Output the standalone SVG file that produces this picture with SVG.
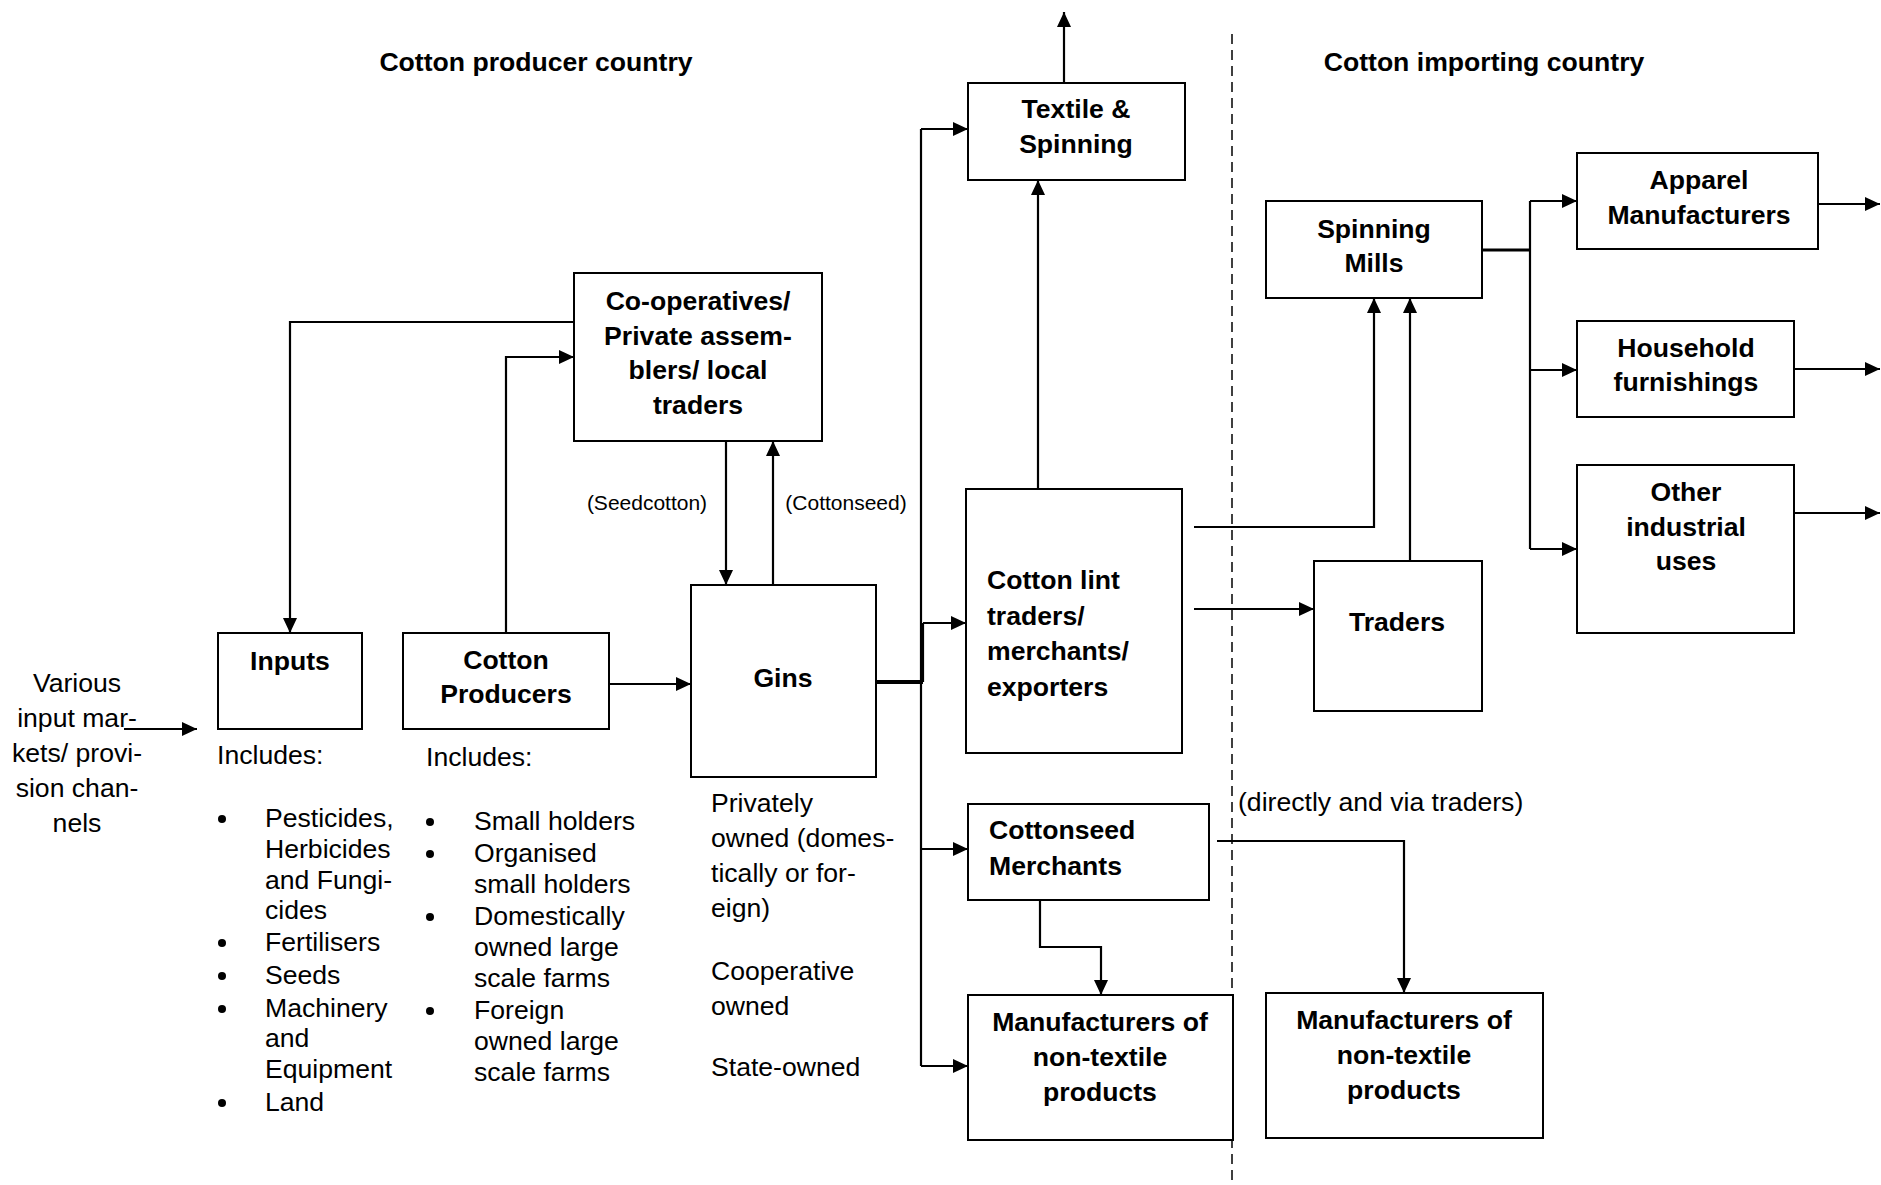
<svg xmlns="http://www.w3.org/2000/svg" width="1881" height="1185" viewBox="0 0 1881 1185">
<defs>
<marker id="arr" viewBox="0 0 15 14" markerWidth="15" markerHeight="14" refX="15" refY="7" orient="auto" markerUnits="userSpaceOnUse">
<path d="M0,0 L15,7 L0,14 Z" fill="#000"/>
</marker>
<style>
.box{fill:#fff;stroke:#000;stroke-width:2}
.lbl{font-family:"Liberation Sans",Arial,sans-serif;font-size:26.6px;font-weight:bold;fill:#000;text-anchor:middle}
.lbll{font-family:"Liberation Sans",Arial,sans-serif;font-size:26.6px;font-weight:bold;fill:#000}
.txt{font-family:"Liberation Sans",Arial,sans-serif;font-size:26.6px;fill:#000}
.txtm{font-family:"Liberation Sans",Arial,sans-serif;font-size:26.6px;fill:#000;text-anchor:middle}
.small{font-family:"Liberation Sans",Arial,sans-serif;font-size:21px;fill:#000;text-anchor:middle}
.c{fill:none;stroke:#000;stroke-width:2.2}
.ca{fill:none;stroke:#000;stroke-width:2.2;marker-end:url(#arr)}
</style>
</defs>
<rect width="1881" height="1185" fill="#fff"/>

<!-- headings and divider -->
<text class="lbl" x="536" y="71">Cotton producer country</text>
<text class="lbl" x="1484" y="71">Cotton importing country</text>
<line x1="1232" y1="34" x2="1232" y2="1185" stroke="#000" stroke-width="1.5" stroke-dasharray="10 6"/>

<!-- connectors -->
<g id="connectors">
<path class="ca" d="M574,322 H290 V633"/>
<path class="ca" d="M506,633 V357 H574"/>
<path class="ca" d="M726,441 V585"/>
<path class="ca" d="M773,585 V441"/>
<path class="ca" d="M609,684 H691"/>
<path class="c" d="M876,682 H923" style="stroke-width:4"/>
<path class="c" d="M921,129 V1066"/>
<path class="c" d="M923,682 V623"/>
<path class="ca" d="M921,129 H968"/>
<path class="ca" d="M923,623 H966"/>
<path class="ca" d="M921,849 H968"/>
<path class="ca" d="M921,1066 H968"/>
<path class="ca" d="M1038,489 V180"/>
<path class="ca" d="M1064,83 V12"/>
<path class="ca" d="M1194,527 H1374 V298"/>
<path class="ca" d="M1410,561 V298"/>
<path class="ca" d="M1194,609 H1314"/>
<path class="c" d="M1482,250 H1530" style="stroke-width:3"/>
<path class="c" d="M1530,201 V549"/>
<path class="ca" d="M1530,201 H1577"/>
<path class="ca" d="M1530,370 H1577"/>
<path class="ca" d="M1530,549 H1577"/>
<path class="ca" d="M1818,204 H1880"/>
<path class="ca" d="M1794,369 H1880"/>
<path class="ca" d="M1794,513 H1880"/>
<path class="ca" d="M1040,900 V947 H1101 V995"/>
<path class="ca" d="M1217,841 H1404 V993"/>
<path class="ca" d="M124,729 H197"/>
</g>

<!-- connector labels -->
<text class="small" x="647" y="510">(Seedcotton)</text>
<text class="small" x="846" y="510">(Cottonseed)</text>
<text class="txt" x="1238" y="811">(directly and via traders)</text>

<!-- nodes -->
<g id="textile">
<rect class="box" x="968" y="83" width="217" height="97"/>
<text class="lbl" x="1076" y="118">Textile &amp;</text>
<text class="lbl" x="1076" y="153">Spinning</text>
</g>

<g id="coops">
<rect class="box" x="574" y="273" width="248" height="168"/>
<text class="lbl" x="698" y="310">Co-operatives/</text>
<text class="lbl" x="698" y="345">Private assem-</text>
<text class="lbl" x="698" y="379">blers/ local</text>
<text class="lbl" x="698" y="414">traders</text>
</g>

<g id="inputs">
<rect class="box" x="218" y="633" width="144" height="96"/>
<text class="lbl" x="290" y="670">Inputs</text>
</g>

<g id="producers">
<rect class="box" x="403" y="633" width="206" height="96"/>
<text class="lbl" x="506" y="669">Cotton</text>
<text class="lbl" x="506" y="703">Producers</text>
</g>

<g id="gins">
<rect class="box" x="691" y="585" width="185" height="192"/>
<text class="lbl" x="783" y="687">Gins</text>
</g>

<g id="cottonlint">
<rect class="box" x="966" y="489" width="216" height="264"/>
<text class="lbll" x="987" y="589">Cotton lint</text>
<text class="lbll" x="987" y="625">traders/</text>
<text class="lbll" x="987" y="660">merchants/</text>
<text class="lbll" x="987" y="696">exporters</text>
</g>

<g id="cottonseed">
<rect class="box" x="968" y="804" width="241" height="96"/>
<text class="lbll" x="989" y="839">Cottonseed</text>
<text class="lbll" x="989" y="875">Merchants</text>
</g>

<g id="manuf-producer">
<rect class="box" x="968" y="995" width="265" height="145"/>
<text class="lbl" x="1100" y="1031">Manufacturers of</text>
<text class="lbl" x="1100" y="1066">non-textile</text>
<text class="lbl" x="1100" y="1101">products</text>
</g>

<g id="manuf-importer">
<rect class="box" x="1266" y="993" width="277" height="145"/>
<text class="lbl" x="1404" y="1029">Manufacturers of</text>
<text class="lbl" x="1404" y="1064">non-textile</text>
<text class="lbl" x="1404" y="1099">products</text>
</g>

<g id="spinningmills">
<rect class="box" x="1266" y="201" width="216" height="97"/>
<text class="lbl" x="1374" y="238">Spinning</text>
<text class="lbl" x="1374" y="272">Mills</text>
</g>

<g id="traders">
<rect class="box" x="1314" y="561" width="168" height="150"/>
<text class="lbl" x="1397" y="631">Traders</text>
</g>

<g id="apparel">
<rect class="box" x="1577" y="153" width="241" height="96"/>
<text class="lbl" x="1699" y="189">Apparel</text>
<text class="lbl" x="1699" y="224">Manufacturers</text>
</g>

<g id="household">
<rect class="box" x="1577" y="321" width="217" height="96"/>
<text class="lbl" x="1686" y="357">Household</text>
<text class="lbl" x="1686" y="391">furnishings</text>
</g>

<g id="otheruses">
<rect class="box" x="1577" y="465" width="217" height="168"/>
<text class="lbl" x="1686" y="501">Other</text>
<text class="lbl" x="1686" y="536">industrial</text>
<text class="lbl" x="1686" y="570">uses</text>
</g>

<!-- free text -->
<g id="various">
<text class="txtm" x="77" y="692">Various</text>
<text class="txtm" x="77" y="727">input mar-</text>
<text class="txtm" x="77" y="762">kets/ provi-</text>
<text class="txtm" x="77" y="797">sion chan-</text>
<text class="txtm" x="77" y="832">nels</text>
</g>

<g id="inputs-list">
<text class="txt" x="217" y="764">Includes:</text>
<circle cx="222" cy="819" r="4"/>
<text class="txt" x="265" y="827">Pesticides,</text>
<text class="txt" x="265" y="858">Herbicides</text>
<text class="txt" x="265" y="889">and Fungi-</text>
<text class="txt" x="265" y="919">cides</text>
<circle cx="222" cy="943" r="4"/>
<text class="txt" x="265" y="951">Fertilisers</text>
<circle cx="222" cy="976" r="4"/>
<text class="txt" x="265" y="984">Seeds</text>
<circle cx="222" cy="1009" r="4"/>
<text class="txt" x="265" y="1017">Machinery</text>
<text class="txt" x="265" y="1047">and</text>
<text class="txt" x="265" y="1078">Equipment</text>
<circle cx="222" cy="1103" r="4"/>
<text class="txt" x="265" y="1111">Land</text>
</g>

<g id="producers-list">
<text class="txt" x="426" y="766">Includes:</text>
<circle cx="430" cy="822" r="4"/>
<text class="txt" x="474" y="830">Small holders</text>
<circle cx="430" cy="854" r="4"/>
<text class="txt" x="474" y="862">Organised</text>
<text class="txt" x="474" y="893">small holders</text>
<circle cx="430" cy="917" r="4"/>
<text class="txt" x="474" y="925">Domestically</text>
<text class="txt" x="474" y="956">owned large</text>
<text class="txt" x="474" y="987">scale farms</text>
<circle cx="430" cy="1011" r="4"/>
<text class="txt" x="474" y="1019">Foreign</text>
<text class="txt" x="474" y="1050">owned large</text>
<text class="txt" x="474" y="1081">scale farms</text>
</g>

<g id="gins-list">
<text class="txt" x="711" y="812">Privately</text>
<text class="txt" x="711" y="847">owned (domes-</text>
<text class="txt" x="711" y="882">tically or for-</text>
<text class="txt" x="711" y="917">eign)</text>
<text class="txt" x="711" y="980">Cooperative</text>
<text class="txt" x="711" y="1015">owned</text>
<text class="txt" x="711" y="1076">State-owned</text>
</g>
</svg>
